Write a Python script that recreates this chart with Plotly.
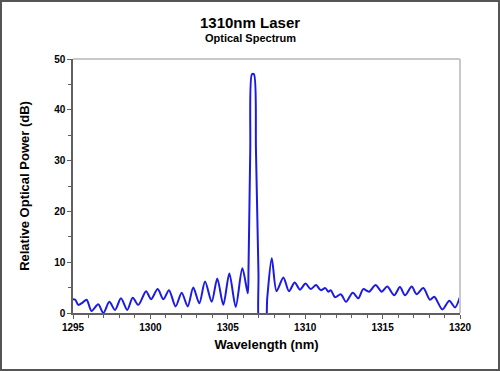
import plotly.graph_objects as go

wavelength = [1295.0, 1295.15, 1295.34, 1295.6, 1295.88, 1296.2, 1296.63, 1296.96, 1297.35, 1297.71,
              1298.1, 1298.5, 1298.86, 1299.22, 1299.72, 1300.04, 1300.47, 1300.84, 1301.2, 1301.63,
              1302.02, 1302.41, 1302.77, 1303.16, 1303.53, 1303.96, 1304.32, 1304.71, 1305.1, 1305.51,
              1305.94, 1306.29, 1306.34, 1306.45, 1306.56, 1306.69, 1306.82, 1306.98, 1307.08, 1307.4,
              1307.55, 1307.84, 1308.15, 1308.59, 1308.95, 1309.32, 1309.66, 1310.02, 1310.35, 1310.7,
              1311.0, 1311.3, 1311.49, 1311.65, 1311.93, 1312.3, 1312.64, 1313.07, 1313.43, 1313.75,
              1314.12, 1314.55, 1314.94, 1315.3, 1315.75, 1316.12, 1316.45, 1316.88, 1317.2, 1317.63,
              1318.06, 1318.34, 1318.86, 1319.31, 1319.68, 1320.0]
power_db = [2.7, 2.6, 1.6, 2.0, 2.6, 0.4, 1.7, 0.0, 2.2, 0.6,
            2.9, 0.6, 3.0, 1.6, 4.3, 2.7, 4.7, 2.7, 4.5, 1.3,
            4.0, 1.3, 5.0, 1.9, 6.2, 2.2, 6.8, 1.6, 7.8, 1.2,
            8.8, 3.9, 9.0, 32.0, 47.0, 47.0, 32.0, 8.0, -3.0, -3.0,
            3.0, 10.8, 4.3, 7.0, 4.3, 6.0, 4.6, 5.8, 4.7, 5.5,
            4.5, 4.9, 4.2, 4.5, 3.1, 3.7, 2.2, 4.0, 2.9, 4.7,
            4.2, 5.5, 4.2, 5.2, 3.5, 5.1, 3.5, 5.2, 3.7, 4.9,
            2.6, 3.2, 0.7, 2.4, 1.1, 3.2]

x_ticks = [1295, 1300, 1305, 1310, 1315, 1320]
y_ticks = [0, 10, 20, 30, 40, 50]

FONT = "Liberation Sans, Arial, sans-serif"

fig = go.Figure()
fig.add_trace(go.Scatter(
    x=wavelength, y=power_db, mode="lines",
    line=dict(color="#1c1ce0", width=2, shape="spline", smoothing=0.8),
    showlegend=False, hoverinfo="skip"))

W, H = 500, 371
L, R, T, B = 73, 40, 59, 58
pw, ph = W - L - R, H - T - B

fig.update_layout(
    width=W, height=H,
    margin=dict(l=L, r=R, t=T, b=B, autoexpand=False),
    paper_bgcolor="white", plot_bgcolor="white",
    font=dict(family=FONT, color="black"),
    annotations=[
        dict(text="<b>1310nm Laser</b>", xref="paper", yref="paper",
             x=(250 - L) / pw, y=(H - B - 22) / ph, showarrow=False,
             font=dict(size=15, family=FONT), xanchor="center", yanchor="middle"),
        dict(text="<b>Optical Spectrum</b>", xref="paper", yref="paper",
             x=(250 - L) / pw, y=(H - B - 38) / ph, showarrow=False,
             font=dict(size=11, family=FONT), xanchor="center", yanchor="middle"),
    ],
    shapes=[
        dict(type="line", xref="paper", yref="paper", x0=0, x1=1, y0=1, y1=1,
             line=dict(color="#c8c8c8", width=2)),
        dict(type="line", xref="paper", yref="paper", x0=1, x1=1, y0=0, y1=1,
             line=dict(color="#c8c8c8", width=2)),
        dict(type="rect", xref="paper", yref="paper",
             x0=(-L + 1) / pw, x1=(W - L - 1) / pw,
             y0=(-B + 1) / ph, y1=(H - B - 1) / ph,
             line=dict(color="#555555", width=2), layer="above"),
    ],
)

fig.update_xaxes(
    range=[1295, 1320], tickvals=x_ticks, ticktext=[f"<b>{v}</b>" for v in x_ticks],
    ticks="outside", ticklen=4, tickcolor="#606060", showgrid=False, zeroline=False,
    showline=True, linecolor="#606060", linewidth=1.5,
    tickfont=dict(size=10, family=FONT),
    minor=dict(dtick=1, ticks="outside", ticklen=3, tickcolor="#606060", showgrid=False),
    title=dict(text="<b>Wavelength (nm)</b>", font=dict(size=13, family=FONT), standoff=8),
)
fig.update_yaxes(
    range=[0, 50], tickvals=y_ticks, ticktext=[f"<b>{v}</b>" for v in y_ticks],
    ticks="outside", ticklen=4, tickcolor="#606060", showgrid=False, zeroline=False,
    showline=True, linecolor="#606060", linewidth=1.5,
    tickfont=dict(size=10, family=FONT),
    minor=dict(dtick=5, ticks="outside", ticklen=3, tickcolor="#606060", showgrid=False),
    title=dict(text="<b>Relative Optical Power (dB)</b>", font=dict(size=13, family=FONT), standoff=22),
)

fig.write_html("out.html", config={"displayModeBar": False},
               post_script="document.body.style.margin='0';")
